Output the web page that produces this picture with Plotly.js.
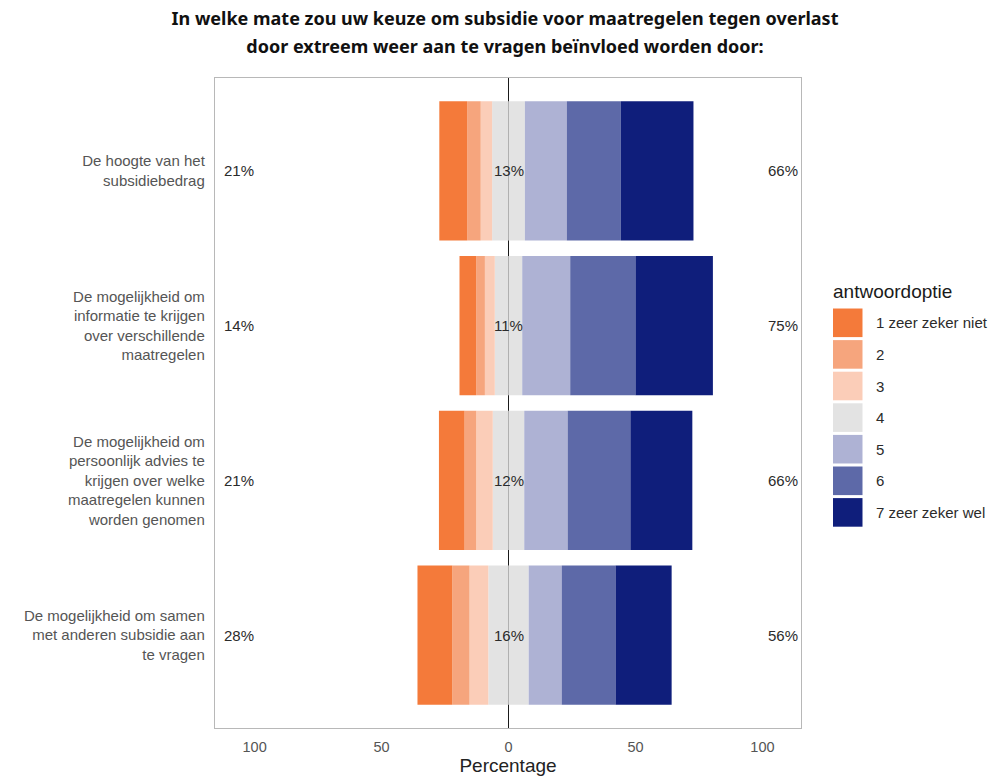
<!DOCTYPE html>
<html>
<head>
<meta charset="utf-8">
<script src="https://cdn.plot.ly/plotly-3.0.1.min.js"></script>
<style>html,body{margin:0;padding:0;background:#fff;}#chart{width:998px;height:776px;}</style>
</head>
<body>
<div id="chart"></div>
<script>
// ---- data ----
const categories = [
  "De hoogte van het subsidiebedrag",
  "De mogelijkheid om informatie te krijgen over verschillende maatregelen",
  "De mogelijkheid om persoonlijk advies te krijgen over welke maatregelen kunnen worden genomen",
  "De mogelijkheid om samen met anderen subsidie aan te vragen"
];
const tickLabels = [
  "De hoogte van het<br>subsidiebedrag",
  "De mogelijkheid om<br>informatie te krijgen<br>over verschillende<br>maatregelen",
  "De mogelijkheid om<br>persoonlijk advies te<br>krijgen over welke<br>maatregelen kunnen<br>worden genomen",
  "De mogelijkheid om samen<br>met anderen subsidie aan<br>te vragen"
];
const levels = ["1 zeer zeker niet", "2", "3", "4", "5", "6", "7 zeer zeker wel"];
const colors = ["#F47A3A", "#F6A57D", "#FBCDB8", "#E3E3E3", "#AEB2D4", "#5D69A8", "#0F1E7B"];
const opt1 = [11.0, 6.6, 10.1, 13.7];
const opt2 = [5.3, 3.4, 4.6, 6.8];
const opt3 = [4.5, 3.9, 6.5, 7.4];
const opt4 = [12.9, 10.8, 12.4, 15.9];
const opt5 = [16.5, 18.9, 17.1, 13.0];
const opt6 = [21.3, 25.7, 24.7, 21.2];
const opt7 = [28.6, 30.5, 24.4, 22.1];
const xTickVals = [-100, -50, 0, 50, 100];
const xTickText = ["100", "50", "0", "50", "100"];

const FONT = "Liberation Sans, Arial, sans-serif";

function bar(vals, ci, sign, half) {
  return {
    type: "bar", orientation: "h",
    y: categories,
    x: vals.map(v => sign * (half ? v / 2 : v)),
    marker: {color: colors[ci], line: {width: 0}},
    name: levels[ci], showlegend: false, hoverinfo: "skip"
  };
}
// negative side: stack outward from zero (neutral half, 3, 2, 1)
const traces = [
  bar(opt4, 3, -1, true), bar(opt3, 2, -1), bar(opt2, 1, -1), bar(opt1, 0, -1),
  bar(opt4, 3, 1, true), bar(opt5, 4, 1), bar(opt6, 5, 1), bar(opt7, 6, 1)
];

const annotations = [];
categories.forEach((c, i) => {
  const left = Math.round(opt1[i] + opt2[i] + opt3[i]);
  const mid = Math.round(opt4[i]);
  const right = Math.round(opt5[i] + opt6[i] + opt7[i]);
  const f = {family: FONT, size: 15, color: "#2b2b2b"};
  annotations.push({x: -113, y: c, xref: "x", yref: "y", text: left + "%", showarrow: false, xanchor: "left", font: f});
  annotations.push({x: 0, y: c, xref: "x", yref: "y", text: mid + "%", showarrow: false, xanchor: "center", font: f});
  annotations.push({x: 114.7, y: c, xref: "x", yref: "y", text: right + "%", showarrow: false, xanchor: "right", font: f});
});

// custom legend (large keys) built from levels/colors
const shapes = [];
const plotL = 215, plotR = 801, plotT = 78, plotB = 728;
const px2x = p => (p - plotL) / (plotR - plotL);
const py2y = p => (plotB - p) / (plotB - plotT);
annotations.push({xref: "paper", yref: "paper", x: px2x(831), y: py2y(291), text: "antwoordoptie",
  showarrow: false, xanchor: "left", yanchor: "middle", font: {family: FONT, size: 19, color: "#1a1a1a"}});
levels.forEach((lv, i) => {
  const top = 308.5 + i * 31.6, bot = top + 28.6;
  shapes.push({type: "rect", xref: "paper", yref: "paper", x0: px2x(833), x1: px2x(862.5), y0: py2y(bot), y1: py2y(top),
    fillcolor: colors[i], line: {width: 0}});
  annotations.push({xref: "paper", yref: "paper", x: px2x(874), y: py2y((top + bot) / 2), text: lv,
    showarrow: false, xanchor: "left", yanchor: "middle", font: {family: FONT, size: 15, color: "#2b2b2b"}});
});

const layout = {
  width: 998, height: 776,
  paper_bgcolor: "#fff", plot_bgcolor: "#fff",
  margin: {l: 215, r: 197, t: 78, b: 48},
  barmode: "relative", bargap: 0.1,
  showlegend: false,
  font: {family: FONT, color: "#4d4d4d"},
  title: {
    text: '<span style="font-size:18px">In welke mate zou uw keuze om subsidie voor maatregelen tegen overlast</span><br><span style="font-size:18px">door extreem weer aan te vragen beïnvloed worden door:</span>',
    font: {family: "Noto Sans, Open Sans, sans-serif", size: 22, color: "#111", weight: "bold"},
    x: 0.506, xanchor: "center", xref: "container",
    y: 0.968, yanchor: "top", yref: "container"
  },
  xaxis: {
    range: [-115.6, 115.2], tickvals: xTickVals, ticktext: xTickText,
    showgrid: false, zeroline: true, zerolinecolor: "#1a1a1a", zerolinewidth: 1.5,
    showline: true, mirror: true, linecolor: "#b8b8b8", linewidth: 1.2,
    ticks: "", ticklabelstandoff: 5,
    tickfont: {family: FONT, size: 14.5, color: "#555"},
    title: {text: "Percentage", font: {family: FONT, size: 19, color: "#222"}, standoff: 4},
    fixedrange: true
  },
  yaxis: {
    type: "category", categoryorder: "array", categoryarray: categories,
    tickvals: categories, ticktext: tickLabels,
    range: [3.6, -0.6],
    showgrid: false, zeroline: false,
    showline: true, mirror: true, linecolor: "#b8b8b8", linewidth: 1.2,
    ticks: "", ticklabelstandoff: 6,
    tickfont: {family: FONT, size: 15, color: "#555"},
    fixedrange: true
  },
  shapes: shapes,
  annotations: annotations
};

Plotly.newPlot("chart", traces, layout, {displayModeBar: false, staticPlot: true});
</script>
</body>
</html>
